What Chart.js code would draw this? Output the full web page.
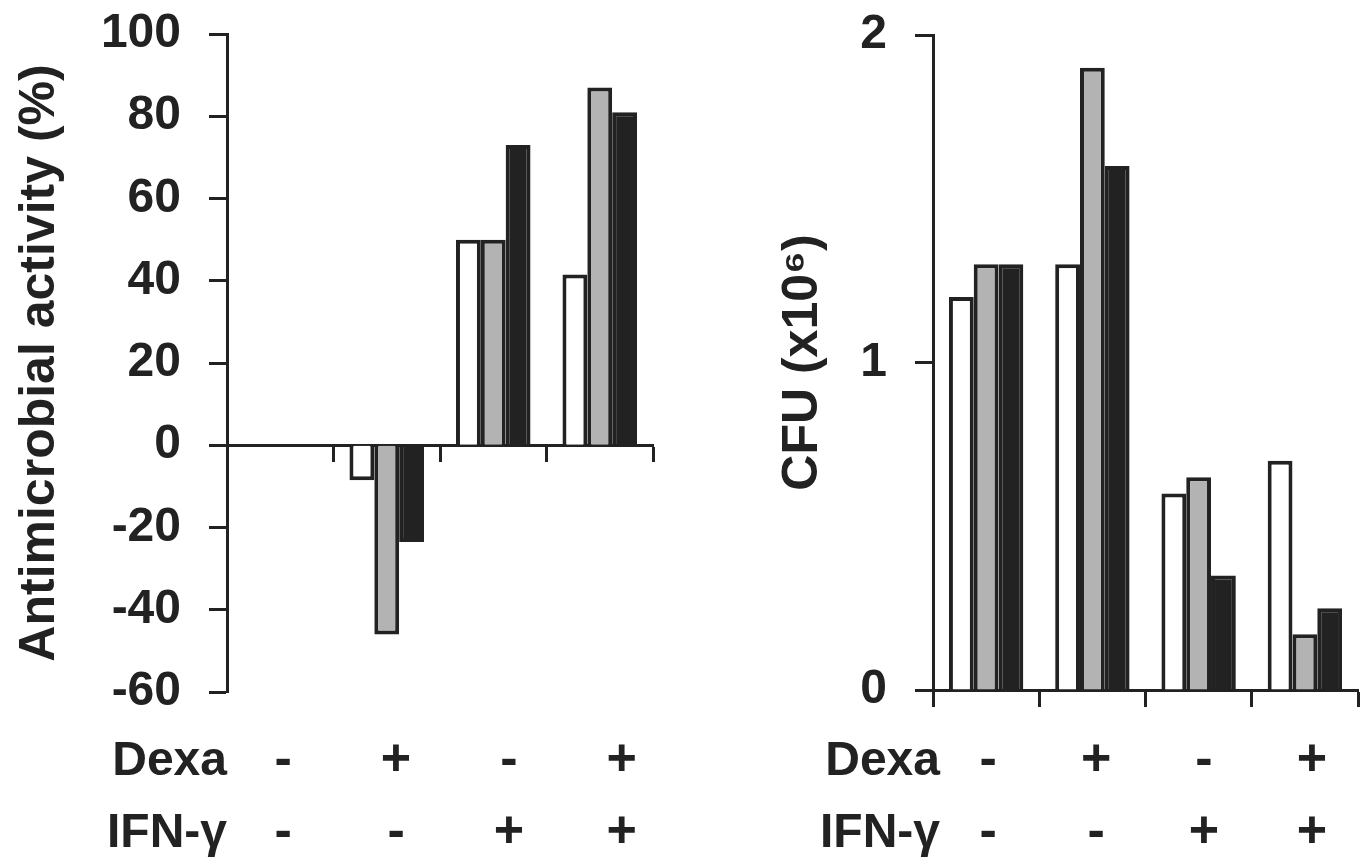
<!DOCTYPE html>
<html>
<head>
<meta charset="utf-8">
<script src="https://cdn.jsdelivr.net/npm/chart.js@4.4.1/dist/chart.umd.min.js"></script>
<style>
    html, body { margin: 0; padding: 0; background: #fff; }
    #wrap { position: relative; width: 1368px; height: 858px; }
    .panel { position: absolute; top: 0; width: 684px; height: 858px; }
</style>
</head>
<body>
<div id="wrap">
    <div class="panel" style="left:0"><canvas id="activityChart" width="684" height="858"></canvas></div>
    <div class="panel" style="left:684px"><canvas id="cfuChart" width="684" height="858"></canvas></div>
</div>
<script>
const categories = ["-/-", "+/-", "-/+", "+/+"];
const dexaRow = ["-", "+", "-", "+"];
const ifnRow = ["-", "-", "+", "+"];

// left panel: antimicrobial activity (%)
const activityWhite = [0, -8.5, 50, 41.5];
const activityGray = [0, -46, 50, 87];
const activityBlack = [0, -23.5, 73, 81];
const activityTicks = [-60, -40, -20, 0, 20, 40, 60, 80, 100];

// right panel: CFU (x10^6)
const cfuWhite = [1.2, 1.3, 0.6, 0.7];
const cfuGray = [1.3, 1.9, 0.65, 0.17];
const cfuBlack = [1.3, 1.6, 0.35, 0.25];
const cfuTicks = [0, 1, 2];

const INK = "#222222";
const FONT = "'Liberation Sans', Arial, sans-serif";

const rowLabels = {
    id: "rowLabels",
    afterDraw(chart, args, opts) {
        const ctx = chart.ctx;
        const x = chart.scales.x;
        ctx.save();
        ctx.fillStyle = INK;
        ctx.textBaseline = "alphabetic";
        opts.rows.forEach((row, r) => {
            const y = opts.baselines[r];
            ctx.font = "bold 48px " + FONT;
            ctx.textAlign = "right";
            ctx.fillText(row.name, opts.headerRight, y);
            ctx.textAlign = "center";
            ctx.font = "bold 52px " + FONT;
            row.signs.forEach((s, i) => {
                ctx.fillText(s, x.getPixelForValue(i) + opts.nudge + opts.shift * i, y);
            });
        });
        ctx.restore();
    }
};

function makeDatasets(white, gray, black) {
    const base = { borderColor: INK, borderWidth: 4, categoryPercentage: 0.7, barPercentage: 1.0 };
    return [
        Object.assign({ label: "white", data: white, backgroundColor: "#ffffff" }, base),
        Object.assign({ label: "gray", data: gray, backgroundColor: "#b3b3b3" }, base),
        Object.assign({ label: "black", data: black, backgroundColor: INK }, base)
    ];
}

function drawPanel(canvasId, cfg) {
    const canvas = document.getElementById(canvasId);
    if (!canvas) return;

    new Chart(canvas, {
        type: "bar",
        data: { labels: categories, datasets: makeDatasets(cfg.white, cfg.gray, cfg.black) },
        plugins: [rowLabels],
        options: {
            responsive: false,
            animation: false,
            devicePixelRatio: 1,
            layout: { padding: cfg.padding },
            plugins: {
                legend: { display: false },
                tooltip: { enabled: false },
                rowLabels: {
                    rows: [{ name: "Dexa", signs: dexaRow }, { name: "IFN-γ", signs: ifnRow }],
                    baselines: [775, 847],
                    headerRight: cfg.headerRight,
                    nudge: cfg.nudge,
                    shift: cfg.shift
                }
            },
            scales: {
                x: {
                    position: { y: 0 },
                    offset: true,
                    afterFit: s => { s.height = 0; },
                    grid: { offset: true, drawOnChartArea: false, tickLength: 15, tickWidth: 3, tickColor: INK },
                    border: { display: true, width: 3, color: INK },
                    ticks: { display: false }
                },
                y: {
                    min: cfg.ticks[0],
                    max: cfg.ticks[cfg.ticks.length - 1],
                    afterBuildTicks: s => { s.ticks = cfg.ticks.map(v => ({ value: v })); },
                    afterFit: s => {
                        s.width = cfg.axisX;
                        s.paddingTop = 0;
                        s.paddingBottom = 0;
                    },
                    grid: { drawOnChartArea: false, tickLength: 18, tickWidth: 3, tickColor: INK },
                    border: { display: true, width: 3, color: INK },
                    ticks: { padding: 28, color: INK, font: { family: FONT, size: 48, weight: "bold" } },
                    title: {
                        display: true,
                        text: cfg.title,
                        color: INK,
                        padding: { top: cfg.titlePad, bottom: 0 },
                        font: { family: FONT, size: 50, weight: "bold" }
                    }
                }
            }
        }
    });
}

drawPanel("activityChart", {
    white: activityWhite, gray: activityGray, black: activityBlack,
    ticks: activityTicks,
    title: "Antimicrobial activity (%)",
    titlePad: 10,
    axisX: 227,
    padding: { top: 34, right: 31, bottom: 166, left: 0 },
    headerRight: 227,
    nudge: 3,
    shift: 6.3
});

drawPanel("cfuChart", {
    white: cfuWhite, gray: cfuGray, black: cfuBlack,
    ticks: cfuTicks,
    title: "CFU (x10⁶)",
    titlePad: 89,
    axisX: 249,
    padding: { top: 35, right: 10, bottom: 168, left: 0 },
    headerRight: 256,
    nudge: 2,
    shift: 1.7
});
</script>
</body>
</html>
